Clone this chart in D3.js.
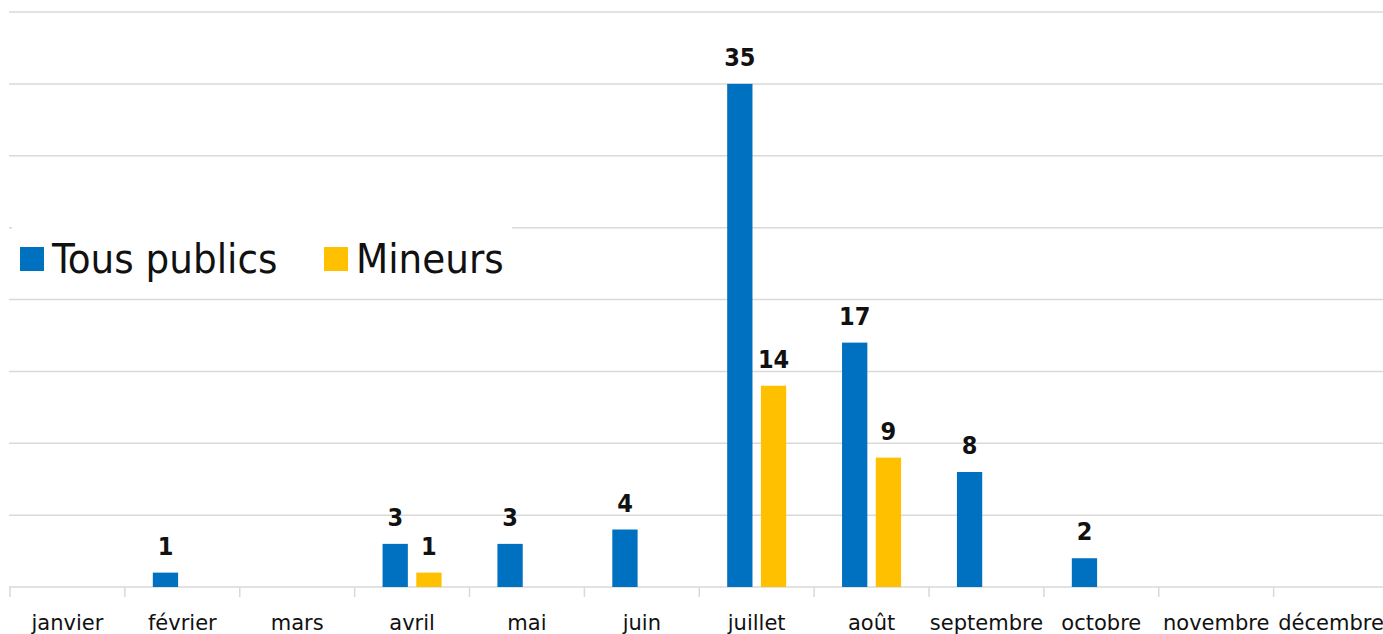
<!DOCTYPE html>
<meta charset="utf-8">
<style>
body { margin: 0; background: #fff; }
svg { font-family: "DejaVu Sans Condensed", "DejaVu Sans", sans-serif; }
.grid line { stroke: #d9d9d9; stroke-width: 1.5px; }
.axis text { font-family: "DejaVu Sans", sans-serif; font-size: 21px; fill: #111; }
.label { font-size: 25px; font-weight: bold; fill: #111; text-anchor: middle; }
.legend text { font-size: 41.5px; fill: #111; }
</style>
<svg width="1383" height="634"></svg>
<script src="https://d3js.org/d3.v7.min.js"></script>
<script>

var months = ["janvier", "février", "mars", "avril", "mai", "juin", "juillet", "août", "septembre", "octobre", "novembre", "décembre"];
var series = ["Tous publics", "Mineurs"];
var tousPublics = [0, 1, 0, 3, 3, 4, 35, 17, 8, 2, 0, 0];
var mineurs = [0, 0, 0, 1, 0, 0, 14, 9, 0, 0, 0, 0];
var colors = ["#0070c0", "#ffc000"];
var yTicks = [0, 5, 10, 15, 20, 25, 30, 35, 40];

var svg = d3.select("svg");

var x = d3.scaleBand().domain(months).range([10, 1388.5]).padding(0);
var x1 = d3.scaleBand().domain(series).range([x.bandwidth() / 2 - 29.5, x.bandwidth() / 2 + 29.5]).paddingInner(0.25);
var y = d3.scaleLinear().domain([0, 40]).range([587, 12]);

// gridlines
svg.append("g").attr("class", "grid")
  .selectAll("line").data(yTicks).enter().append("line")
    .attr("x1", 9).attr("x2", 1383)
    .attr("y1", function(d) { return y(d); })
    .attr("y2", function(d) { return y(d); });

// tick separators on the baseline
var bounds = months.map(function(m) { return x(m); }).concat([x.range()[1]]);
svg.append("g").attr("class", "grid")
  .selectAll("line").data(bounds).enter().append("line")
    .attr("x1", function(d) { return d; }).attr("x2", function(d) { return d; })
    .attr("y1", y(0)).attr("y2", y(0) + 10);

var xAxis = svg.append("g").attr("class", "axis")
    .attr("transform", "translate(0," + y(0) + ")")
    .call(d3.axisBottom(x).tickSize(0).tickPadding(0));
xAxis.select(".domain").remove();
xAxis.selectAll("text").attr("dy", null).attr("y", 43);

var rows = months.map(function(m, i) {
  return { month: m, values: [
    { key: series[0], value: tousPublics[i], color: colors[0] },
    { key: series[1], value: mineurs[i], color: colors[1] }
  ] };
});

var group = svg.append("g").selectAll("g").data(rows).enter().append("g")
    .attr("transform", function(d) { return "translate(" + x(d.month) + ",0)"; });

var bars = group.selectAll("g").data(function(d) { return d.values.filter(function(v) { return v.value > 0; }); })
  .enter().append("g");

bars.append("rect")
    .attr("x", function(d) { return x1(d.key); })
    .attr("width", x1.bandwidth())
    .attr("y", function(d) { return y(d.value); })
    .attr("height", function(d) { return y(0) - y(d.value); })
    .attr("fill", function(d) { return d.color; });

bars.append("text").attr("class", "label")
    .attr("x", function(d) { return x1(d.key) + x1.bandwidth() / 2; })
    .attr("y", function(d) { return y(d.value) - 18; })
    .text(function(d) { return d.value; });

// legend
var legend = svg.append("g").attr("class", "legend");
legend.append("rect").attr("x", 12).attr("y", 200).attr("width", 500).attr("height", 90).attr("fill", "#fff");
var items = [{ name: series[0], color: colors[0], x: 20 }, { name: series[1], color: colors[1], x: 324 }];
var li = legend.selectAll("g").data(items).enter().append("g")
    .attr("transform", function(d) { return "translate(" + d.x + ",0)"; });
li.append("rect").attr("y", 247).attr("width", 24).attr("height", 24).attr("fill", function(d) { return d.color; });
li.append("text").attr("x", 32).attr("y", 273).text(function(d) { return d.name; });

</script>
